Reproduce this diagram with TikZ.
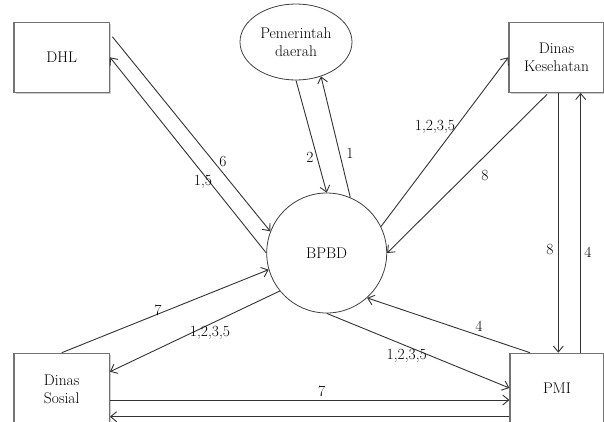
\documentclass[tikz,border=0pt]{standalone}
\usetikzlibrary{arrows.meta,shapes.geometric,shadows}
\begin{document}
\begin{tikzpicture}[x=1pt,y=-1pt,
  every node/.style={font=\fontsize{15.5}{18}\selectfont},
  ent/.style={rectangle, draw=black!55, line width=1.2pt, fill=white, align=center, inner sep=0pt,
    drop shadow={shadow xshift=1.5pt, shadow yshift=-1.5pt, opacity=0.2, fill=black}},
  proc/.style={circle, draw=black!75, line width=0.8pt, fill=white, minimum size=120pt, inner sep=0pt},
  ext/.style={ellipse, draw=black!75, line width=0.8pt, fill=white, align=center, inner sep=0pt},
  flow/.style={draw=black!80, line width=0.9pt, -{Straight Barb[length=6pt,width=10pt]}},
  lab/.style={inner sep=0pt}]
\useasboundingbox (0,0) rectangle (604,421);
\clip (0,0) rectangle (604,421);
\fill[white] (0,0) rectangle (604,421);

% entities
\node[ent, minimum width=95.3pt, minimum height=70pt] (dhl) at (61.7,57.3) {DHL};
\node[ext, minimum width=112pt, minimum height=76pt] (pd) at (296,42) {Pemerintah\\daerah};
\node[ent, minimum width=95pt, minimum height=70pt] (dk) at (556.5,57.3) {Dinas\\Kesehatan};
\node[proc] (bpbd) at (326.7,253) {BPBD};
\node[ent, minimum width=95.3pt, minimum height=71.4pt] (ds) at (61.7,389) {Dinas\\Sosial};
\node[ent, minimum width=94pt, minimum height=69.4pt] (pmi) at (557,388) {PMI};

% DHL <-> BPBD
\draw[flow] ([xshift=2.4pt,yshift=20.6pt]dhl.east) -- (bpbd.159);
\draw[flow] (bpbd.180) -- (dhl.east);
% Pemerintah daerah <-> BPBD
\draw[flow] (pd.south) -- (bpbd.90);
\draw[flow] (bpbd.67) -- (pd.-54);
% Dinas Kesehatan <-> BPBD
\draw[flow] (bpbd.26) -- (dk.west);
\draw[flow] ([xshift=-9.5pt,yshift=-1.5pt]dk.south) -- (bpbd.0);
% Dinas Kesehatan <-> PMI
\coordinate (v8) at ([xshift=1.3pt]pmi.north);
\draw[flow] (v8 |- dk.south) -- (v8);
\coordinate (v4) at ([xshift=23.7pt]pmi.north);
\draw[flow] (v4) -- (v4 |- dk.south);
% PMI <-> BPBD
\draw[flow] ([xshift=-27pt]pmi.north) -- (bpbd.-48);
\draw[flow] (bpbd.-90) -- (pmi.west);
% Dinas Sosial <-> BPBD
\draw[flow] (ds.north) -- (bpbd.196);
\draw[flow] (bpbd.219) -- ([yshift=17.3pt]ds.east);
% Dinas Sosial <-> PMI
\coordinate (h7) at ([yshift=-11pt]ds.east);
\draw[flow] (h7) -- (h7 -| pmi.west);
\coordinate (h0) at ([yshift=-27.7pt]ds.east);
\draw[flow] (h0 -| pmi.west) -- (h0);

% labels
\node[lab] (l6) at (223,161) {6};
\node[lab] (l15) at (203,182) {1,5};
\node[lab] (l2) at (310,157) {2};
\node[lab] (l1) at (350,153) {1};
\node[lab] (ldk) at (435,127) {1,2,3,5};
\node[lab] (l8a) at (485,175) {8};
\node[lab] (l8b) at (550,249) {8};
\node[lab] (l4a) at (588,252) {4};
\node[lab] (l4b) at (479,326) {4};
\node[lab] (lpmi) at (406.7,356) {1,2,3,5};
\node[lab] (l7a) at (158,310) {7};
\node[lab] (lds) at (210,333) {1,2,3,5};
\node[lab] (l7b) at (321.7,391.7) {7};
\end{tikzpicture}
\end{document}
